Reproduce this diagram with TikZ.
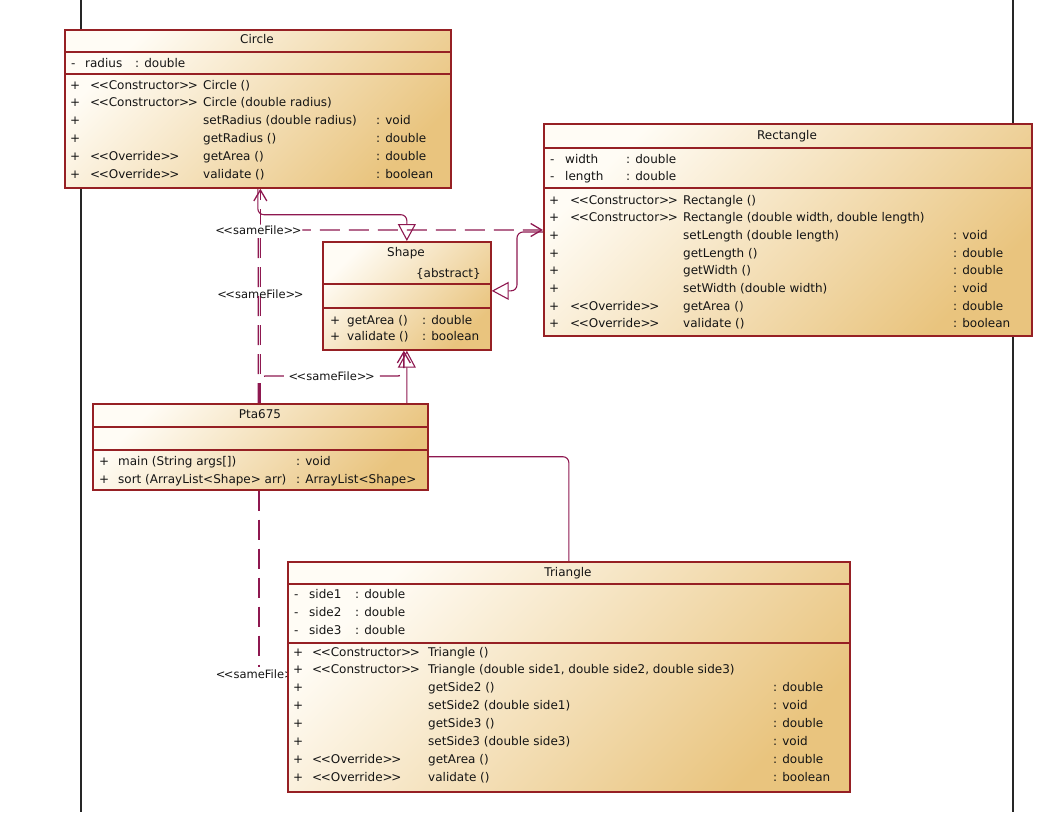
\documentclass[tikz,border=0pt]{standalone}
\usepackage{fontspec}
\setmainfont{DejaVu Sans}
\usetikzlibrary{positioning, calc, arrows.meta, backgrounds}
\definecolor{umlborder}{RGB}{150,32,36}
\definecolor{umlline}{RGB}{142,24,80}
\definecolor{umllight}{RGB}{255,252,245}
\definecolor{umltan}{RGB}{233,196,126}
\definecolor{umltext}{RGB}{20,20,20}
\newcommand{\stereo}[1]{<\kern-1.5pt<#1>\kern-1.5pt>}

\begin{document}
\begin{tikzpicture}[x=1pt, y=-1pt, font=\fontsize{12}{14}\selectfont,
    classbox/.style={draw=umlborder, line width=1.7pt, top color=umllight,
        bottom color=umltan, shading angle=45, anchor=north west, inner sep=0pt},
    divider/.style={draw=umlborder, line width=1.3pt},
    member/.style={anchor=base west, inner sep=0pt, text=umltext},
    classname/.style={anchor=base, inner sep=0pt, text=umltext},
    generalize/.style={draw=umlline, line width=1.1pt, rounded corners=6pt,
        -{Triangle[open, length=17pt, width=18pt]}},
    depend/.style={draw=umlline, line width=1.3pt, rounded corners=6pt,
        dash pattern=on 20pt off 9pt, -{Straight Barb[length=11pt, width=13pt]}},
    samefile/.style={inner sep=1pt, text=umltext, font=\fontsize{11.5}{13}\selectfont}]
\useasboundingbox (0,0) rectangle (1047,812);

% class boxes
\node[classbox, minimum width=386pt, minimum height=158pt] (circle) at (64,29) {};
\node[classbox, minimum width=488pt, minimum height=212pt] (rect) at (543,123) {};
\node[classbox, minimum width=168pt, minimum height=108pt] (shape) at (322,241) {};
\node[classbox, minimum width=335pt, minimum height=86pt] (pta) at (92,403) {};
\node[classbox, minimum width=562pt, minimum height=230pt] (tri) at (287,561) {};

\draw[divider] ($(circle.north west)+(0,23)$) -- ($(circle.north east)+(0,23)$);
\draw[divider] ($(circle.north west)+(0,45)$) -- ($(circle.north east)+(0,45)$);
\draw[divider] ($(rect.north west)+(0,25)$) -- ($(rect.north east)+(0,25)$);
\draw[divider] ($(rect.north west)+(0,65)$) -- ($(rect.north east)+(0,65)$);
\draw[divider] ($(shape.north west)+(0,43)$) -- ($(shape.north east)+(0,43)$);
\draw[divider] ($(shape.north west)+(0,67)$) -- ($(shape.north east)+(0,67)$);
\draw[divider] ($(pta.north west)+(0,24)$) -- ($(pta.north east)+(0,24)$);
\draw[divider] ($(pta.north west)+(0,47)$) -- ($(pta.north east)+(0,47)$);
\draw[divider] ($(tri.north west)+(0,23)$) -- ($(tri.north east)+(0,23)$);
\draw[divider] ($(tri.north west)+(0,82)$) -- ($(tri.north east)+(0,82)$);

% Circle
\node[classname] (circle-title) at (257,43.5) {Circle};
\node[member] (circle-av) at (71,67) {-};
\node[member] (circle-an) at (85,67) {radius};
\node[member] (circle-at) at (135,67) {: double};
\foreach \ster/\meth/\ret [count=\i] in {
    \stereo{Constructor}/Circle ()/{},
    \stereo{Constructor}/Circle (double radius)/{},
    {}/setRadius (double radius)/: void,
    {}/getRadius ()/: double,
    \stereo{Override}/getArea ()/: double,
    \stereo{Override}/validate ()/: boolean}
{
  \node[member] (circle-p\i) at (70,{71.2+17.8*\i}) {+};
  \node[member] (circle-s\i) at (90,{71.2+17.8*\i}) {\ster};
  \node[member] (circle-n\i) at (203,{71.2+17.8*\i}) {\meth};
  \node[member] (circle-t\i) at (376,{71.2+17.8*\i}) {\ret};
}

% Rectangle
\node[classname] (rect-title) at (787,139.5) {Rectangle};
\foreach \fld [count=\i] in {width, length}
{
  \node[member] (rect-av\i) at (550,{146+17*\i}) {-};
  \node[member] (rect-an\i) at (565,{146+17*\i}) {\fld};
  \node[member] (rect-at\i) at (626,{146+17*\i}) {: double};
}
\foreach \ster/\meth/\ret [count=\i] in {
    \stereo{Constructor}/Rectangle ()/{},
    \stereo{Constructor}/{Rectangle (double width, double length)}/{},
    {}/setLength (double length)/: void,
    {}/getLength ()/: double,
    {}/getWidth ()/: double,
    {}/setWidth (double width)/: void,
    \stereo{Override}/getArea ()/: double,
    \stereo{Override}/validate ()/: boolean}
{
  \node[member] (rect-p\i) at (549,{186.3+17.7*\i}) {+};
  \node[member] (rect-s\i) at (570,{186.3+17.7*\i}) {\ster};
  \node[member] (rect-n\i) at (683,{186.3+17.7*\i}) {\meth};
  \node[member] (rect-t\i) at (953,{186.3+17.7*\i}) {\ret};
}

% Shape
\node[classname] (shape-title) at (406,256) {Shape};
\node[member, anchor=base east] (shape-abs) at (481,277) {\{abstract\}};
\foreach \meth/\ret [count=\i] in {getArea ()/: double, validate ()/: boolean}
{
  \node[member] (shape-p\i) at (330,{308+16*\i}) {+};
  \node[member] (shape-n\i) at (347,{308+16*\i}) {\meth};
  \node[member] (shape-t\i) at (422,{308+16*\i}) {\ret};
}

% Pta675
\node[classname] (pta-title) at (260,418) {Pta675};
\foreach \meth/\ret [count=\i] in {main (String args[])/: void,
    sort (ArrayList<Shape> arr)/: ArrayList<Shape>}
{
  \node[member] (pta-p\i) at (99,{447+18*\i}) {+};
  \node[member] (pta-n\i) at (118,{447+18*\i}) {\meth};
  \node[member] (pta-t\i) at (296,{447+18*\i}) {\ret};
}

% Triangle
\node[classname] (tri-title) at (568,576) {Triangle};
\foreach \fld [count=\i] in {side1, side2, side3}
{
  \node[member] (tri-av\i) at (294,{580+18*\i}) {-};
  \node[member] (tri-an\i) at (309,{580+18*\i}) {\fld};
  \node[member] (tri-at\i) at (355,{580+18*\i}) {: double};
}
\foreach \ster/\meth/\ret [count=\i] in {
    \stereo{Constructor}/Triangle ()/{},
    \stereo{Constructor}/{Triangle (double side1, double side2, double side3)}/{},
    {}/getSide2 ()/: double,
    {}/setSide2 (double side1)/: void,
    {}/getSide3 ()/: double,
    {}/setSide3 (double side3)/: void,
    \stereo{Override}/getArea ()/: double,
    \stereo{Override}/validate ()/: boolean}
{
  \node[member] (tri-p\i) at (293,{638.1+17.9*\i}) {+};
  \node[member] (tri-s\i) at (312,{638.1+17.9*\i}) {\ster};
  \node[member] (tri-n\i) at (428,{638.1+17.9*\i}) {\meth};
  \node[member] (tri-t\i) at (773,{638.1+17.9*\i}) {\ret};
}

\begin{scope}[on background layer]
  % frame
  \draw[line width=1.4pt, black!85] (81,0) -- (81,812);
  \draw[line width=1.4pt, black!85] (1013,0) -- (1013,812);

  % generalizations
  \draw[generalize] (circle.south) -- ++(0,26) -| (shape.north);
  \draw[generalize] ($(rect.north west)+(0,109)$) -- ++(-26,0) |- ([yshift=5pt]shape.east);
  \draw[generalize] (tri.north) |- ($(shape.south)+(0,106)$) -- (shape.south);

  % dependencies
  \draw[depend] (pta.north) -- (pta.north |- circle.south)
      node[pos=0.51, samefile] (sf-circle) {\stereo{sameFile}};
  \draw[depend] ($(pta.north)+(-2,0)$) |- ($(rect.north west)+(0,107)$)
      node[pos=0.5, samefile, fill=white] (sf-rect) {\stereo{sameFile}};
  \draw[depend] ($(pta.north)+(-1,0)$) -- ++(0,-27) -| ($(shape.south)+(-3,0)$)
      node[pos=0.25, samefile, fill=white] (sf-shape) {\stereo{sameFile}};
  \draw[umlline, line width=1.3pt, dash pattern=on 20pt off 9pt]
      ($(pta.south)+(-1.5,0)$) -- ++(0,176)
      node[anchor=north, samefile, yshift=-1pt] (sf-tri) {\stereo{sameFile}};
\end{scope}
\end{tikzpicture}
\end{document}
